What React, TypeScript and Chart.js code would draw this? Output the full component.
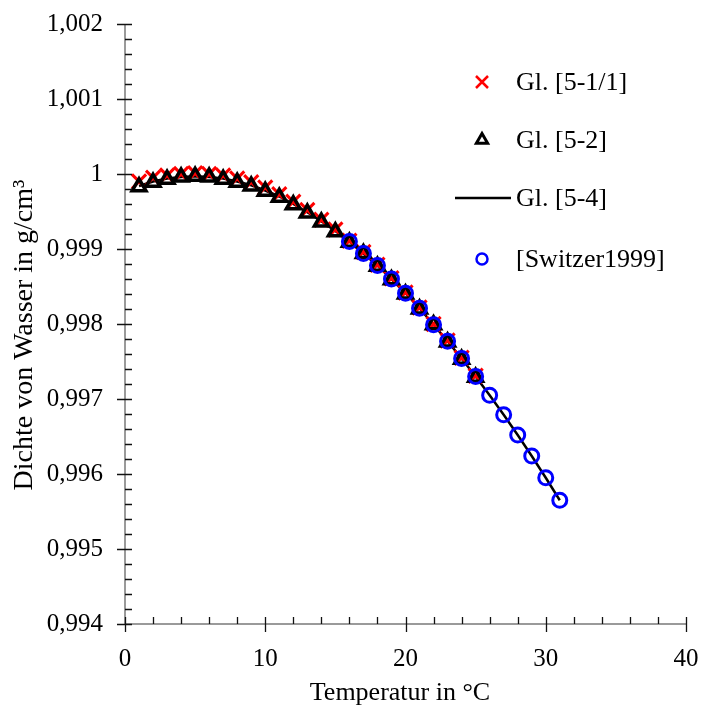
import React, { useEffect, useRef } from "react";
import { Chart, registerables } from "chart.js";

Chart.register(...registerables);

// ---- data ----
const xTickValues = [0, 10, 20, 30, 40];
const xTickLabels = ["0", "10", "20", "30", "40"];
const yTickValues = [0.994, 0.995, 0.996, 0.997, 0.998, 0.999, 1.0, 1.001, 1.002];
const yTickLabels = ["0,994", "0,995", "0,996", "0,997", "0,998", "0,999", "1", "1,001", "1,002"];

const calcTemps = [1, 2, 3, 4, 5, 6, 7, 8, 9, 10, 11, 12, 13, 14, 15, 16, 17, 18, 19, 20, 21, 22, 23, 24, 25];
const gl511Values = [
  0.9999, 0.99995, 0.99998, 1.0, 1.00001, 1.0, 0.99998, 0.99994, 0.99989, 0.99982,
  0.99973, 0.99963, 0.99952, 0.99939, 0.99926, 0.99911, 0.99896, 0.99879, 0.99861, 0.99842,
  0.99822, 0.998, 0.99778, 0.99755, 0.99731,
];
const gl52Values = [
  0.99983, 0.99989, 0.99993, 0.99996, 0.99997, 0.99996, 0.99993, 0.99989, 0.99984, 0.99977,
  0.99969, 0.99959, 0.99948, 0.99936, 0.99923, 0.99909, 0.99894, 0.99877, 0.99859, 0.9984,
  0.9982, 0.99799, 0.99776, 0.99753, 0.99729,
];
const lineTemps = [1, 2, 3, 4, 5, 6, 7, 8, 9, 10, 11, 12, 13, 14, 15, 16, 17, 18, 19, 20, 21, 22, 23, 24, 25, 26, 27, 28, 29, 30, 31];
const gl54Values = [
  0.99984, 0.9999, 0.99994, 0.99996, 0.99997, 0.99996, 0.99994, 0.9999, 0.99985, 0.99978,
  0.9997, 0.9996, 0.99949, 0.99937, 0.99924, 0.9991, 0.99894, 0.99878, 0.9986, 0.99841,
  0.99821, 0.99799, 0.99777, 0.99754, 0.9973, 0.99705, 0.99679, 0.99652, 0.99624, 0.99595,
  0.99565,
];
const switzerTemps = [16, 17, 18, 19, 20, 21, 22, 23, 24, 25, 26, 27, 28, 29, 30, 31];
const switzerValues = [
  0.9991, 0.99894, 0.99878, 0.9986, 0.99841, 0.99821, 0.99799, 0.99777, 0.99754, 0.9973,
  0.99705, 0.99679, 0.99652, 0.99624, 0.99595, 0.99565,
];

const seriesNames = ["Gl. [5-1/1]", "Gl. [5-2]", "Gl. [5-4]", "[Switzer1999]"];
const xTitle = "Temperatur in °C";
const yTitle = "Dichte von Wasser in g/cm³";

const FONT = '"Liberation Serif", "Times New Roman", serif';
const FS = 25;

const toXY = (xs: number[], ys: number[]) => xs.map((x, i) => ({ x, y: ys[i] }));

const axisPlugin = {
  id: "axisTicks",
  afterDatasetsDraw(chart: any) {
    const { ctx, chartArea, scales } = chart;
    const xs = scales.x;
    const ys = scales.y;
    ctx.save();
    ctx.strokeStyle = "#7a7a7a";
    ctx.lineWidth = 1.5;
    ctx.beginPath();
    ctx.moveTo(chartArea.left, chartArea.top);
    ctx.lineTo(chartArea.left, chartArea.bottom);
    ctx.lineTo(chartArea.right, chartArea.bottom);
    ctx.stroke();
    ctx.strokeStyle = "#111";
    ctx.lineWidth = 1.3;
    ctx.beginPath();
    for (let v = 0; v <= 40; v += 2) {
      const px = Math.round(xs.getPixelForValue(v)) + 0.5;
      const major = v % 10 === 0;
      ctx.moveTo(px, chartArea.bottom + (major ? 8 : 0));
      ctx.lineTo(px, chartArea.bottom - 7);
    }
    for (let i = 0; i <= 40; i++) {
      const v = 0.994 + i * 0.0002;
      const py = Math.round(ys.getPixelForValue(v)) + 0.5;
      const major = i % 5 === 0;
      ctx.moveTo(chartArea.left - (major ? 8 : 0), py);
      ctx.lineTo(chartArea.left + 7, py);
    }
    ctx.stroke();
    // axis titles
    ctx.fillStyle = "#000";
    ctx.textAlign = "center";
    ctx.textBaseline = "middle";
    ctx.font = `26px ${FONT}`;
    ctx.fillText(xTitle, 400, 693);
    ctx.font = `28px ${FONT}`;
    ctx.translate(25, 335);
    ctx.rotate(-Math.PI / 2);
    ctx.fillText(yTitle, 0, 0);
    ctx.restore();
  },
};

const legendPlugin = {
  id: "customLegend",
  afterDraw(chart: any) {
    const { ctx } = chart;
    const mx = 482;
    const tx = 516;
    const rowsY = [82, 140, 198, 259];
    ctx.save();
    ctx.font = `26px ${FONT}`;
    ctx.textBaseline = "middle";
    ctx.textAlign = "left";
    ctx.fillStyle = "#000";
    seriesNames.forEach((name, i) => ctx.fillText(name, tx, rowsY[i] + 1));
    ctx.strokeStyle = "#ff0000";
    ctx.lineWidth = 2.5;
    ctx.beginPath();
    const a = 6;
    ctx.moveTo(mx - a, rowsY[0] - a);
    ctx.lineTo(mx + a, rowsY[0] + a);
    ctx.moveTo(mx + a, rowsY[0] - a);
    ctx.lineTo(mx - a, rowsY[0] + a);
    ctx.stroke();
    ctx.strokeStyle = "#000";
    ctx.lineWidth = 3;
    ctx.beginPath();
    const r = 6.5;
    const cy = rowsY[1];
    for (let k = 0; k < 3; k++) {
      const ang = (k * 2 * Math.PI) / 3;
      const px = mx + Math.sin(ang) * r;
      const py = cy - Math.cos(ang) * r;
      if (k === 0) ctx.moveTo(px, py);
      else ctx.lineTo(px, py);
    }
    ctx.closePath();
    ctx.stroke();
    ctx.lineWidth = 2.5;
    ctx.beginPath();
    ctx.moveTo(455, rowsY[2]);
    ctx.lineTo(511, rowsY[2]);
    ctx.stroke();
    ctx.strokeStyle = "#0000ff";
    ctx.lineWidth = 2.5;
    ctx.beginPath();
    ctx.arc(mx, rowsY[3], 5.5, 0, Math.PI * 2);
    ctx.stroke();
    ctx.restore();
  },
};

export default function App() {
  const canvasRef = useRef<HTMLCanvasElement | null>(null);

  useEffect(() => {
    const canvas = canvasRef.current;
    if (!canvas) return;
    const chart = new Chart(canvas, {
      type: "scatter",
      data: {
        datasets: [
          {
            label: seriesNames[3],
            data: toXY(switzerTemps, switzerValues),
            showLine: false,
            pointStyle: "circle",
            pointRadius: 7,
            pointBorderWidth: 3,
            borderColor: "#0000ff",
            backgroundColor: "rgba(0,0,0,0)",
            order: 0,
          },
          {
            label: seriesNames[1],
            data: toXY(calcTemps, gl52Values),
            showLine: false,
            pointStyle: "triangle",
            pointRadius: 8,
            pointBorderWidth: 3.5,
            borderColor: "#000000",
            backgroundColor: "rgba(0,0,0,0)",
            order: 1,
          },
          {
            label: seriesNames[0],
            data: toXY(calcTemps, gl511Values),
            showLine: false,
            pointStyle: "crossRot",
            pointRadius: 10,
            pointBorderWidth: 3,
            borderColor: "#ff0000",
            backgroundColor: "#ff0000",
            order: 2,
          },
          {
            label: seriesNames[2],
            data: toXY(lineTemps, gl54Values),
            showLine: true,
            pointRadius: 0,
            borderWidth: 2.5,
            borderColor: "#000000",
            backgroundColor: "#000000",
            tension: 0,
            order: 3,
          },
        ],
      },
      options: {
        responsive: false,
        animation: false,
        devicePixelRatio: 1,
        layout: { padding: { left: 0, top: 24, right: 16, bottom: 0 } },
        plugins: {
          legend: { display: false },
          tooltip: { enabled: false },
        },
        scales: {
          x: {
            type: "linear",
            min: 0,
            max: 40,
            grid: { display: false, drawTicks: false },
            border: { display: false },
            afterBuildTicks: (scale: any) => {
              scale.ticks = xTickValues.map((v) => ({ value: v }));
            },
            afterFit: (scale: any) => {
              scale.height = 89;
              scale.paddingLeft = 0;
              scale.paddingRight = 0;
            },
            ticks: {
              color: "#000",
              padding: 20,
              maxRotation: 0,
              font: { family: FONT, size: FS },
              callback: (_v: any, i: number) => xTickLabels[i],
            },
            title: { display: false },
          },
          y: {
            type: "linear",
            min: 0.994,
            max: 1.002,
            grid: { display: false, drawTicks: false },
            border: { display: false },
            afterBuildTicks: (scale: any) => {
              scale.ticks = yTickValues.map((v) => ({ value: v }));
            },
            afterFit: (scale: any) => {
              scale.width = 125;
              scale.paddingTop = 0;
              scale.paddingBottom = 0;
            },
            ticks: {
              color: "#000",
              padding: 22,
              font: { family: FONT, size: FS },
              callback: (_v: any, i: number) => yTickLabels[i],
            },
            title: { display: false },
          },
        },
      },
      plugins: [axisPlugin, legendPlugin],
    });
    return () => chart.destroy();
  }, []);

  return (
    <div style={{ position: "fixed", left: 0, top: 0, width: 702, height: 713, background: "#fff" }}>
      <canvas ref={canvasRef} width={702} height={713} style={{ display: "block" }} />
    </div>
  );
}
